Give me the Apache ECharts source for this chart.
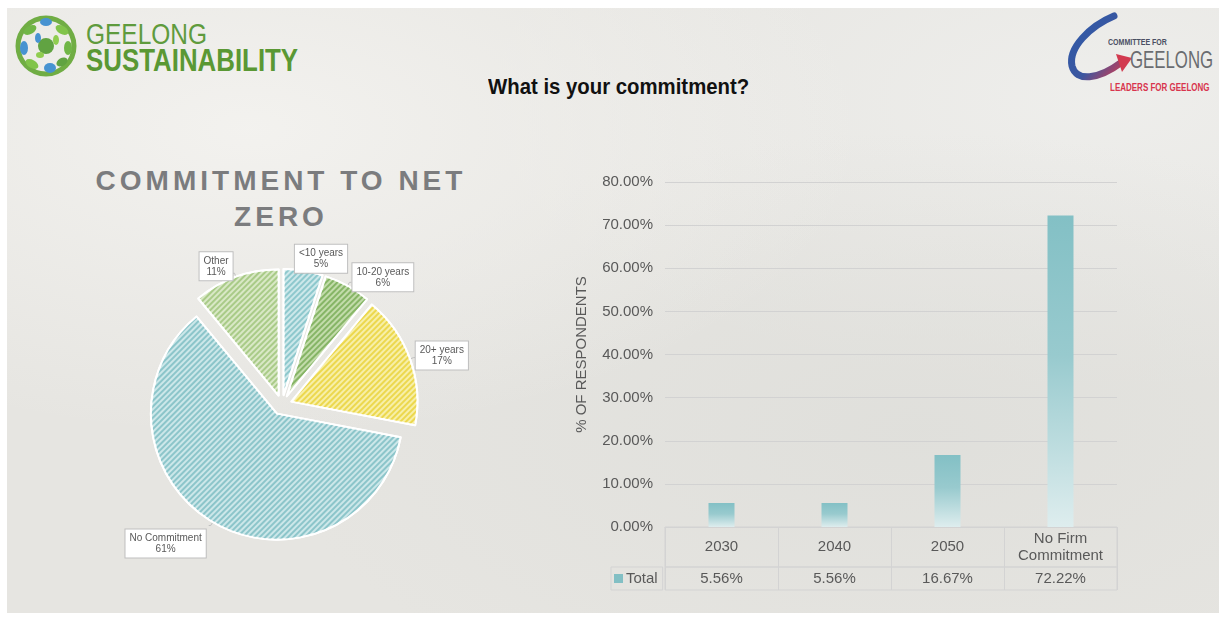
<!DOCTYPE html>
<html>
<head>
<meta charset="utf-8">
<script src="https://cdn.jsdelivr.net/npm/echarts@6/dist/echarts.min.js"></script>
<style>
  html, body { margin: 0; padding: 0; background: #fff; }
  #slide {
    position: absolute; left: 7px; top: 8px; width: 1212px; height: 605px; overflow: hidden;
    background:
      radial-gradient(ellipse at 20% 20%, rgba(244,243,240,0.9), rgba(244,243,240,0) 45%),
      radial-gradient(ellipse at 75% 70%, rgba(222,222,218,0.8), rgba(222,222,218,0) 50%),
      radial-gradient(ellipse at 90% 15%, rgba(240,240,238,0.8), rgba(240,240,238,0) 40%),
      #e6e5e1;
  }
  #main { position: absolute; left: 0; top: 0; width: 1219px; height: 617px; }
  .t { position: absolute; white-space: nowrap; transform-origin: 0 0; }
  #gs1 { left: 86px; top: 17px; font: 30px 'Liberation Sans', sans-serif; color: #5f9b3d; transform: scaleX(0.815); }
  #gs2 { left: 86px; top: 43px; font: bold 31px 'Liberation Sans', sans-serif; color: #5a9834; transform: scaleX(0.834); }
  #slideTitle { left: 488px; top: 74px; font: bold 22px 'Liberation Sans', sans-serif; color: #111; transform: scaleX(0.925); }
  #pieTitle { left: 60px; width: 442px; top: 163px; text-align: center; font: bold 28px 'Liberation Sans', sans-serif; color: #7b7c7e; letter-spacing: 4px; line-height: 36px; }
  #cf1 { left: 1108px; top: 37px; font: bold 9px 'Liberation Sans', sans-serif; color: #4a4f63; transform: scaleX(0.78); }
  #cf2 { left: 1130px; top: 46px; font: 24px 'Liberation Sans', sans-serif; color: #6a6c70; transform: scaleX(0.7); }
  #cf3 { left: 1110px; top: 82px; font: bold 10px 'Liberation Sans', sans-serif; color: #d8344d; transform: scaleX(0.8); }
</style>
</head>
<body>
<div id="slide"></div>
<svg style="position:absolute;left:0;top:0" width="1219" height="120">
  <defs>
    <linearGradient id="sw" x1="0" y1="0" x2="1" y2="1">
      <stop offset="0" stop-color="#2d5aa8"/>
      <stop offset="0.6" stop-color="#3b56a0"/>
      <stop offset="1" stop-color="#d23a4f"/>
    </linearGradient>
  </defs>
  <g opacity="0.95">
    <circle cx="46" cy="46" r="28" fill="none" stroke="#6aaa3c" stroke-width="5"/>
    <ellipse cx="30" cy="30" rx="7" ry="4" fill="#6ab43e" transform="rotate(-30 30 30)"/>
    <ellipse cx="46" cy="22" rx="6" ry="4" fill="#3f8fd0"/>
    <ellipse cx="62" cy="30" rx="7" ry="4" fill="#7cc242" transform="rotate(30 62 30)"/>
    <ellipse cx="24" cy="48" rx="4" ry="7" fill="#3f8fd0"/>
    <ellipse cx="46" cy="46" rx="8" ry="8" fill="#5aa03a"/>
    <ellipse cx="68" cy="48" rx="4" ry="7" fill="#6ab43e"/>
    <ellipse cx="32" cy="64" rx="7" ry="4" fill="#7cc242" transform="rotate(30 32 64)"/>
    <ellipse cx="50" cy="68" rx="6" ry="5" fill="#3f8fd0"/>
    <ellipse cx="62" cy="62" rx="6" ry="4" fill="#5aa03a" transform="rotate(-30 62 62)"/>
    <ellipse cx="38" cy="38" rx="3" ry="5" fill="#3f8fd0"/>
    <ellipse cx="56" cy="40" rx="3" ry="5" fill="#8ccc48"/>
    <ellipse cx="40" cy="55" rx="4" ry="3" fill="#8ccc48"/>
  </g>
  <path d="M1114,16 C1090,26 1068,48 1072,66 C1076,82 1098,80 1122,62" fill="none" stroke="url(#sw)" stroke-width="7" stroke-linecap="round"/>
  <path d="M1116,54 L1132,58 L1122,72 Z" fill="#d23a4f"/>
</svg>
<div class="t" id="gs1">GEELONG</div>
<div class="t" id="gs2">SUSTAINABILITY</div>
<div class="t" id="cf1">COMMITTEE FOR</div>
<div class="t" id="cf2">GEELONG</div>
<div class="t" id="cf3">LEADERS FOR GEELONG</div>
<div class="t" id="slideTitle">What is your commitment?</div>
<div class="t" id="pieTitle">COMMITMENT TO NET<br>ZERO</div>
<div id="main"></div>
<script>
// pie: commitment to net zero (labels as shown on the slide)
var pieNames = ['<10 years', '10-20 years', '20+ years', 'No Commitment', 'Other'];
var pieValues = [5, 6, 17, 61, 11];
// bar: % of respondents
var barCats = ['2030', '2040', '2050', 'No Firm\nCommitment'];
var barValues = [5.56, 5.56, 16.67, 72.22];
var yTicks = { min: 0, max: 80, step: 10 };

var pieBase = ['#cde8ea', '#c3dcab', '#f7efa8', '#cce7e9', '#d9e8c6'];
var pieStripe = ['#8ec8cd', '#86b566', '#ecd84e', '#8cc5ca', '#a9cb88'];
// callout nudges, like the hand-placed labels in the slide
var labelShift = [[-16, -8], [-4, -5], [-5, -2], [2, 18], [5, -7]];

function pct(v) { return v.toFixed(2) + '%'; }

var myChart = echarts.init(document.getElementById('main'));
var txt = '#595959';
var line = '#d3d3d3';

myChart.setOption({
  animation: false,
  textStyle: { fontFamily: 'Liberation Sans' },
  legend: {
    data: ['Total'],
    left: 611,
    top: 567,
    selectedMode: false,
    icon: 'rect',
    itemWidth: 9,
    itemHeight: 9,
    itemGap: 4,
    padding: [4, 5, 4, 3],
    borderColor: line,
    borderWidth: 1,
    itemStyle: { color: '#82bfc4' },
    textStyle: { fontSize: 15, color: txt, padding: [0, 0, 0, -2] }
  },
  grid: [
    { left: 665, right: 102, top: 182, bottom: 90 },
    { left: 665, right: 102, top: 527, height: 40, show: true, borderColor: line, borderWidth: 1 },
    { left: 665, right: 102, top: 567, height: 23, show: true, borderColor: line, borderWidth: 1 }
  ],
  xAxis: [
    {
      gridIndex: 0,
      type: 'category',
      data: barCats,
      axisTick: { show: false },
      axisLine: { lineStyle: { color: line } },
      axisLabel: { margin: 20, verticalAlign: 'middle', fontSize: 15, lineHeight: 17, color: txt, interval: 0 }
    },
    {
      gridIndex: 1,
      type: 'category',
      data: barCats,
      axisTick: { show: false },
      axisLine: { show: false },
      axisLabel: { show: false },
      splitLine: { show: true, interval: 0, lineStyle: { color: line } }
    },
    {
      gridIndex: 2,
      type: 'category',
      data: barValues.map(pct),
      axisTick: { show: false },
      axisLine: { show: false },
      axisLabel: { inside: true, margin: 11, verticalAlign: 'middle', fontSize: 15, color: txt, interval: 0 },
      splitLine: { show: true, interval: 0, lineStyle: { color: line } }
    }
  ],
  yAxis: [
    {
      gridIndex: 0,
      type: 'value',
      min: yTicks.min,
      max: yTicks.max,
      interval: yTicks.step,
      name: '% OF RESPONDENTS',
      nameLocation: 'middle',
      nameGap: 76,
      nameTextStyle: { fontSize: 15, color: txt },
      axisLine: { show: false },
      axisTick: { show: false },
      axisLabel: { formatter: pct, fontSize: 15, color: txt, margin: 12 },
      splitLine: { lineStyle: { color: '#d2d2d2' } }
    },
    { gridIndex: 1, type: 'value', min: 0, max: 1, show: false },
    { gridIndex: 2, type: 'value', min: 0, max: 1, show: false }
  ],
  series: [
    {
      name: 'Total',
      type: 'bar',
      xAxisIndex: 0,
      yAxisIndex: 0,
      barWidth: 26,
      data: barValues,
      itemStyle: {
        color: new echarts.graphic.LinearGradient(0, 0, 0, 1, [
          { offset: 0, color: '#83c0c5' },
          { offset: 0.45, color: '#98cace' },
          { offset: 1, color: '#deedee' }
        ])
      },
      emphasis: { disabled: true }
    },
    {
      name: 'Commitment to net zero',
      type: 'pie',
      center: [282, 405],
      radius: 126,
      startAngle: 90,
      clockwise: true,
      selectedMode: 'multiple',
      selectedOffset: 10,
      percentPrecision: 0,
      avoidLabelOverlap: false,
      labelLayout: function (p) {
        var s = labelShift[p.dataIndex];
        return { dx: s[0], dy: s[1], hideOverlap: false };
      },
      emphasis: { disabled: true },
      itemStyle: { borderColor: '#ffffff', borderWidth: 2 },
      label: {
        show: true,
        position: 'outside',
        formatter: '{a|{b}}\n{a|{d}%}',
        color: txt,
        backgroundColor: '#ffffff',
        borderColor: '#bfbfbf',
        borderWidth: 1,
        padding: [3, 4],
        rich: {
          a: { fontSize: 10, lineHeight: 11, color: txt, align: 'center' }
        }
      },
      labelLine: { show: true, length: 4, length2: 2, lineStyle: { color: '#bfbfbf' } },
      data: pieNames.map(function (n, i) {
        return {
          name: n,
          value: pieValues[i],
          selected: true,
          itemStyle: {
            color: pieBase[i],
            decal: {
              symbol: 'rect',
              symbolSize: 1,
              dashArrayX: [1, 0],
              dashArrayY: [2, 2],
              rotation: -Math.PI / 4,
              color: pieStripe[i]
            }
          }
        };
      })
    }
  ]
});
</script>
</body>
</html>
